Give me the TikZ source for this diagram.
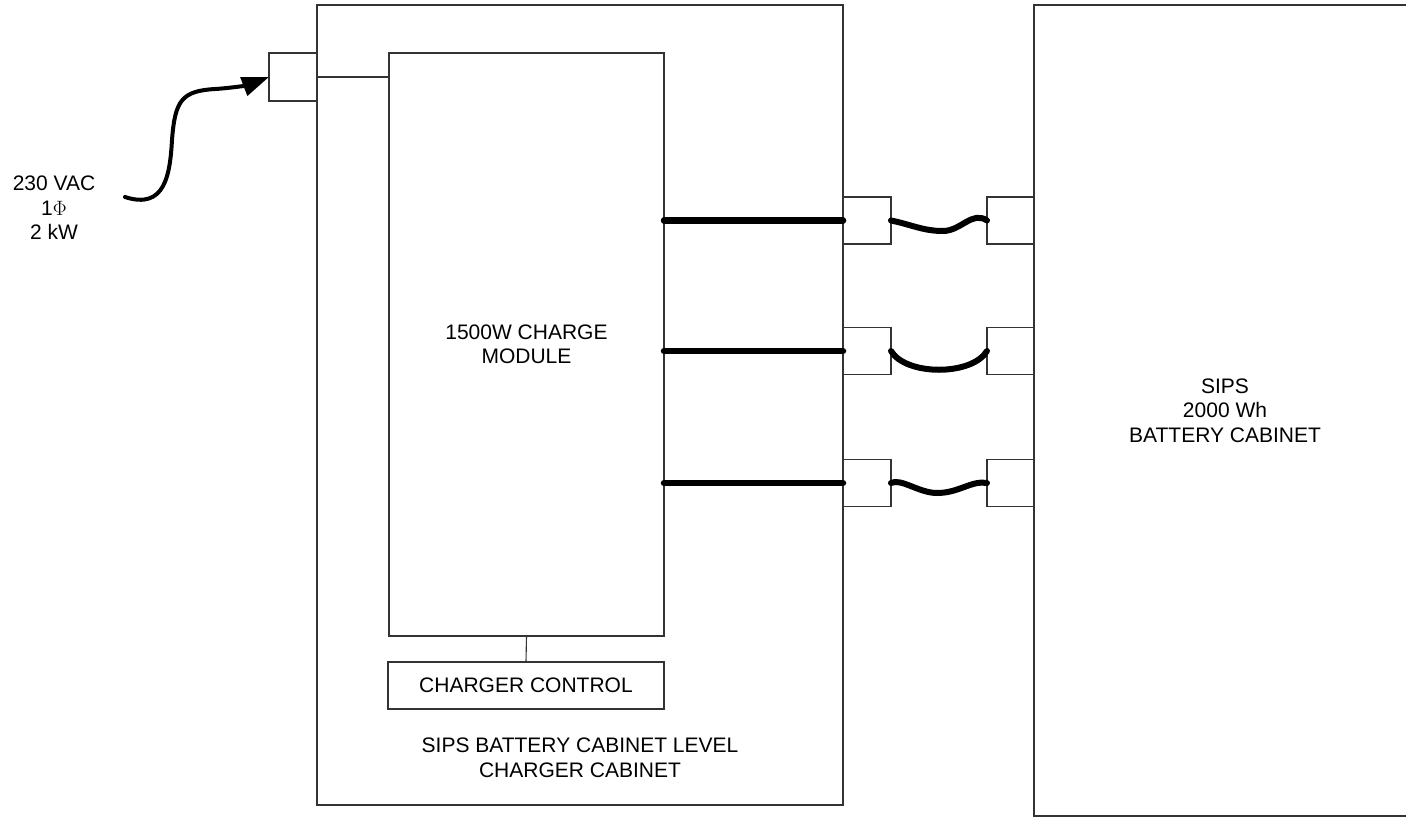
\documentclass[tikz,border=0pt]{standalone}
\usepackage{fontspec}
\setmainfont{Liberation Sans}
\usetikzlibrary{arrows.meta,calc}
\begin{document}
\begin{tikzpicture}[x=1pt,y=-1pt,
  box/.style={draw=black!80, line width=1.1pt, inner sep=0pt, outer sep=0pt, rectangle},
  lbl/.style={align=center, inner sep=0pt, font=\fontsize{21}{24.5}\selectfont},
  bus/.style={line width=6.5pt, line cap=round},
  cable/.style={line width=6pt, line cap=round},
  feed/.style={line width=4pt, line cap=round, -{Triangle[length=27pt,width=19pt]}}]
\clip (0,0) rectangle (1406,817);
% cabinets
\node[box, minimum width=526pt, minimum height=800pt] (cab1) at (580,405) {};
\node[box, lbl, minimum width=382pt, minimum height=811pt] (cab2) at (1225,410.5) {SIPS\\2000 Wh\\BATTERY CABINET};
% input terminal
\node[box, minimum width=48pt, minimum height=48pt] (inbox) at (293,77) {};
% charge module and control
\node[box, lbl, minimum width=275pt, minimum height=583pt] (module) at (526.5,344.5) {1500W CHARGE\\MODULE};
\node[box, lbl, minimum width=276pt, minimum height=47pt] (ctrl) at (526,685.5) {CHARGER CONTROL};
% connector boxes
\foreach \n/\yy in {1/220.5, 2/351, 3/483} {
  \node[box, minimum width=48pt, minimum height=47pt] (l\n) at (867,\yy) {};
  \node[box, minimum width=47pt, minimum height=47pt] (r\n) at (1010.5,\yy) {};
}
% labels
\node[lbl] (vin) at (54,208) {230 VAC\\1$\Phi$\\2 kW};
\node[lbl] (cablbl) at (580,758) {SIPS BATTERY CABINET LEVEL\\CHARGER CABINET};
% thin connections
\draw[black!80, line width=1.1pt] (inbox.east) -- (module.west |- inbox.east);
\draw[black!80, line width=1.1pt] (module.south) -- (ctrl.north);
% thick buses
\foreach \n in {1,2,3} {
  \draw[bus] (module.east |- l\n.west) -- (l\n.west);
}
% cables
\coordinate (w1) at (943,231);
\coordinate (w3) at (937,493);
\draw[cable] (l1.east) .. controls +(20,4) and +(-20,0) .. (w1) .. controls +(18,0) and +(-15,-10) .. (r1.west);
\draw[cable] (l2.east) .. controls +(15,25) and +(-15,25) .. (r2.west);
\draw[cable] (l3.east) .. controls +(10,-5) and +(-18,0) .. (w3) .. controls +(22,0) and +(-15,-3) .. (r3.west);
% feed arrow
\coordinate (src) at (125,197);
\coordinate (f1) at (172,140);
\coordinate (f2) at (215,89);
\draw[feed] (src) .. controls (165,210) and (170,175) .. (f1) .. controls (175,100) and (182,91) .. (f2) .. controls (232,88) and (248,85) .. (inbox.west);
\end{tikzpicture}
\end{document}
